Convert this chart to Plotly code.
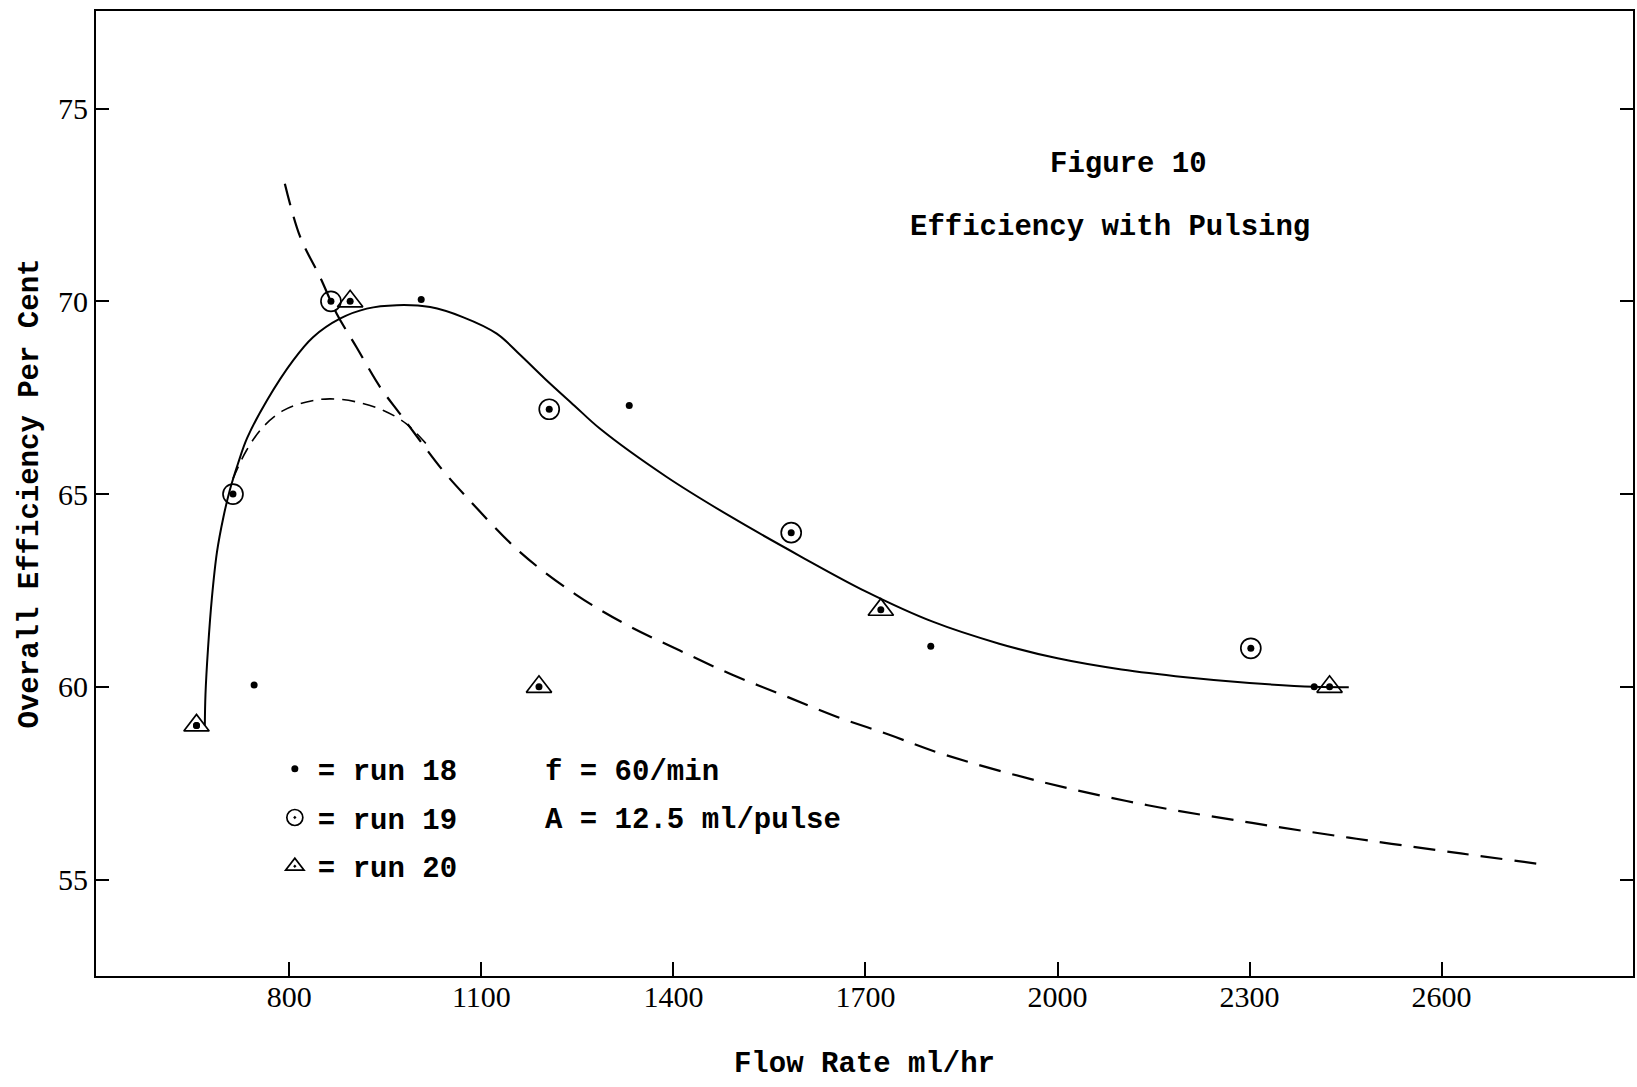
import plotly.graph_objects as go

# ---------------- data ----------------
# run 18: plain dots
run18_x = [655, 745, 1006, 1331, 1802, 2401]
run18_y = [59.0, 60.05, 70.05, 67.3, 61.05, 60.0]
# run 19: circled dots
run19_x = [712, 865, 1206, 1584, 2302]
run19_y = [65.0, 70.0, 67.2, 64.0, 61.0]
# run 20: dotted triangles
run20_x = [655, 895, 1190, 1724, 2425]
run20_y = [59.0, 70.0, 60.0, 62.0, 60.0]

# hand-drawn solid curve
solid_x = [668, 669, 673, 679, 687, 697, 707, 720, 734, 765, 806, 837, 879, 921,
           968, 1020, 1071, 1124, 1160, 1200, 1245, 1285, 1389, 1493, 1597, 1701,
           1805, 1909, 2000, 2100, 2200, 2300, 2401, 2455]
solid_y = [59.0, 59.8, 61.0, 62.3, 63.5, 64.4, 65.1, 65.8, 66.45, 67.43, 68.47,
           69.07, 69.55, 69.81, 69.9, 69.85, 69.59, 69.16, 68.62, 67.98, 67.3,
           66.7, 65.45, 64.38, 63.4, 62.47, 61.69, 61.12, 60.74, 60.45, 60.25,
           60.1, 60.0, 59.99]

# steep long-dash curve
dashA_x = [793, 817, 848, 874, 905, 942, 973, 1004, 1040, 1077, 1160, 1247,
           1328, 1410, 1491, 1572, 1654, 1735, 1816, 1979, 2141, 2304, 2467, 2630, 2751]
dashA_y = [73.05, 71.67, 70.63, 69.68, 68.81, 67.77, 67.08, 66.39, 65.61, 64.92,
           63.5, 62.4, 61.6, 60.94, 60.32, 59.78, 59.23, 58.77, 58.28,
           57.52, 56.93, 56.47, 56.06, 55.68, 55.41]

# short-dash hump curve
dashB_x = [712, 733, 759, 791, 827, 863, 905, 947, 983, 1014]
dashB_y = [65.4, 66.13, 66.74, 67.17, 67.39, 67.47, 67.39, 67.17, 66.82, 66.3]

x_ticks = [800, 1100, 1400, 1700, 2000, 2300, 2600]
y_ticks = [55, 60, 65, 70, 75]

MONO = "Liberation Mono"
SERIF = "Liberation Serif"
INK = "black"

fig = go.Figure()

fig.add_trace(go.Scatter(x=solid_x, y=solid_y, mode="lines", showlegend=False,
                         line=dict(color=INK, width=2, shape="spline", smoothing=1.0),
                         hoverinfo="skip"))
fig.add_trace(go.Scatter(x=dashA_x, y=dashA_y, mode="lines", showlegend=False,
                         line=dict(color=INK, width=2.2, shape="spline", smoothing=1.0,
                                   dash="22px,12px"),
                         hoverinfo="skip"))
fig.add_trace(go.Scatter(x=dashB_x, y=dashB_y, mode="lines", showlegend=False,
                         line=dict(color=INK, width=1.6, shape="spline", smoothing=1.0,
                                   dash="13px,8px"),
                         hoverinfo="skip"))

fig.add_trace(go.Scatter(x=run18_x, y=run18_y, mode="markers", name="= run 18",
                         legendgroup="r18",
                         marker=dict(symbol="circle", size=7, color=INK)))
fig.add_trace(go.Scatter(x=run19_x, y=run19_y, mode="markers", name="= run 19",
                         legendgroup="r19",
                         marker=dict(symbol="circle-open-dot", size=20, color=INK,
                                     line=dict(width=1.7, color=INK))))
fig.add_trace(go.Scatter(x=run19_x, y=run19_y, mode="markers", showlegend=False,
                         legendgroup="r19", hoverinfo="skip",
                         marker=dict(symbol="circle", size=7, color=INK)))
fig.add_trace(go.Scatter(x=run20_x, y=run20_y, mode="markers", name="= run 20",
                         legendgroup="r20",
                         marker=dict(symbol="triangle-up-open-dot", size=22, color=INK,
                                     line=dict(width=1.7, color=INK))))
fig.add_trace(go.Scatter(x=run20_x, y=run20_y, mode="markers", showlegend=False,
                         legendgroup="r20", hoverinfo="skip",
                         marker=dict(symbol="circle", size=7, color=INK)))

text_font = dict(family=MONO, size=29, color=INK, weight="bold")

fig.update_layout(
    width=1637, height=1087,
    margin=dict(l=96, r=2, t=11, b=111),
    paper_bgcolor="white", plot_bgcolor="white",
    showlegend=True,
    legend=dict(x=0.1144, y=0.241, xanchor="left", yanchor="top",
                bgcolor="rgba(0,0,0,0)", font=text_font,
                itemwidth=36, tracegroupgap=8, traceorder="grouped"),
    annotations=[
        dict(text="Figure 10", x=0.672, y=0.841, xref="paper", yref="paper",
             showarrow=False, xanchor="center", yanchor="middle", font=text_font),
        dict(text="Efficiency with Pulsing", x=0.6595, y=0.7754, xref="paper",
             yref="paper", showarrow=False, xanchor="center", yanchor="middle",
             font=text_font),
        dict(text="f = 60/min", x=0.291, y=0.2108, xref="paper", yref="paper",
             showarrow=False, xanchor="left", yanchor="middle", font=text_font),
        dict(text="A = 12.5 ml/pulse", x=0.291, y=0.161, xref="paper", yref="paper",
             showarrow=False, xanchor="left", yanchor="middle", font=text_font),
    ],
)

fig.update_xaxes(
    range=[498, 2899], tickmode="array", tickvals=x_ticks,
    ticktext=[str(v) for v in x_ticks],
    ticks="inside", ticklen=14, tickwidth=2, tickcolor=INK,
    showline=True, linewidth=2, linecolor=INK, mirror=True,
    showgrid=False, zeroline=False, ticklabelstandoff=-7,
    tickfont=dict(family=SERIF, size=30, color=INK),
    title=dict(text="Flow Rate ml/hr", font=text_font, standoff=40),
)
fig.update_yaxes(
    range=[52.5, 77.53], tickmode="array", tickvals=y_ticks,
    ticktext=[str(v) for v in y_ticks],
    ticks="inside", ticklen=13, tickwidth=2, tickcolor=INK,
    showline=True, linewidth=2, linecolor=INK, mirror="ticks",
    showgrid=False, zeroline=False,
    tickfont=dict(family=SERIF, size=30, color=INK),
    title=dict(text="Overall Efficiency Per Cent", font=text_font, standoff=11),
)

fig.write_html("out.html")
